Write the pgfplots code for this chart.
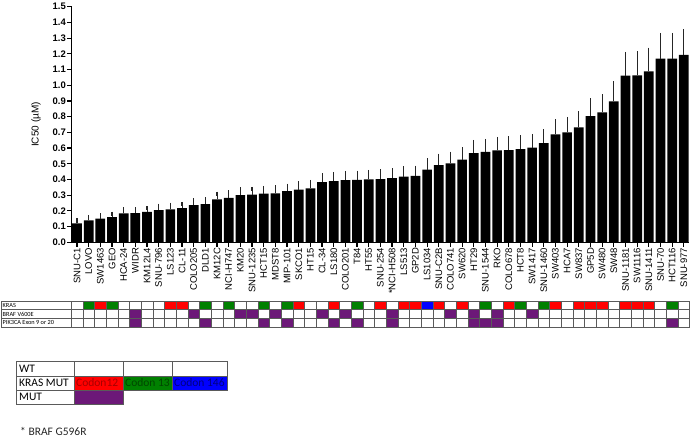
\documentclass[border=0pt]{standalone}
\usepackage{fontspec}
\setmainfont{Liberation Sans}
\newfontfamily\calibri{Carlito}
\usepackage{pgfplots}
\usepackage{pgfplotstable}
\pgfplotsset{compat=1.18}
\definecolor{kred}{RGB}{255,0,0}
\definecolor{kgreen}{RGB}{0,128,0}
\definecolor{kblue}{RGB}{0,0,255}
\definecolor{kpurple}{RGB}{108,24,120}
\definecolor{gridc}{RGB}{90,90,90}
\newcommand\fs[1]{\fontsize{#1}{#1}\selectfont}
\pgfplotstableread{
x y e
1 0.12 0.02
2 0.14 0.02
3 0.15 0.021
4 0.16 0.021
5 0.185 0.023
6 0.186 0.023
7 0.193 0.024
8 0.205 0.027
9 0.21 0.029
10 0.218 0.026
11 0.237 0.03
12 0.243 0.031
13 0.274 0.034
14 0.283 0.034
15 0.30 0.035
16 0.303 0.036
17 0.31 0.035
18 0.312 0.036
19 0.326 0.034
20 0.336 0.038
21 0.344 0.039
22 0.383 0.044
23 0.389 0.045
24 0.396 0.045
25 0.397 0.046
26 0.40 0.047
27 0.403 0.047
28 0.408 0.049
29 0.418 0.052
30 0.423 0.052
31 0.463 0.057
32 0.491 0.06
33 0.502 0.061
34 0.527 0.063
35 0.568 0.07
36 0.576 0.068
37 0.586 0.071
38 0.587 0.073
39 0.594 0.073
40 0.603 0.073
41 0.631 0.076
42 0.687 0.082
43 0.70 0.084
44 0.731 0.09
45 0.804 0.10
46 0.827 0.103
47 0.897 0.115
48 1.061 0.138
49 1.063 0.138
50 1.088 0.138
51 1.17 0.15
52 1.17 0.15
53 1.193 0.15
}\ictable
\pgfplotstableread{
x y c
1 3 w
2 3 g
3 3 r
4 3 g
5 3 w
6 3 w
7 3 w
8 3 w
9 3 r
10 3 r
11 3 w
12 3 g
13 3 w
14 3 g
15 3 w
16 3 w
17 3 g
18 3 w
19 3 g
20 3 r
21 3 w
22 3 w
23 3 r
24 3 w
25 3 g
26 3 w
27 3 r
28 3 w
29 3 r
30 3 r
31 3 b
32 3 r
33 3 w
34 3 r
35 3 w
36 3 g
37 3 w
38 3 r
39 3 g
40 3 w
41 3 g
42 3 r
43 3 w
44 3 r
45 3 r
46 3 r
47 3 w
48 3 r
49 3 r
50 3 r
51 3 w
52 3 g
53 3 w
1 2 w
2 2 w
3 2 w
4 2 w
5 2 w
6 2 p
7 2 w
8 2 w
9 2 w
10 2 w
11 2 p
12 2 w
13 2 w
14 2 w
15 2 p
16 2 p
17 2 w
18 2 p
19 2 w
20 2 w
21 2 w
22 2 p
23 2 w
24 2 p
25 2 w
26 2 w
27 2 w
28 2 p
29 2 w
30 2 w
31 2 w
32 2 w
33 2 p
34 2 w
35 2 p
36 2 w
37 2 p
38 2 w
39 2 w
40 2 p
41 2 w
42 2 w
43 2 w
44 2 w
45 2 w
46 2 w
47 2 w
48 2 w
49 2 w
50 2 w
51 2 w
52 2 w
53 2 w
1 1 w
2 1 w
3 1 w
4 1 w
5 1 w
6 1 p
7 1 w
8 1 w
9 1 w
10 1 w
11 1 w
12 1 p
13 1 w
14 1 w
15 1 w
16 1 w
17 1 p
18 1 w
19 1 p
20 1 w
21 1 w
22 1 w
23 1 p
24 1 w
25 1 p
26 1 w
27 1 w
28 1 p
29 1 w
30 1 w
31 1 w
32 1 w
33 1 w
34 1 w
35 1 p
36 1 p
37 1 p
38 1 w
39 1 w
40 1 w
41 1 w
42 1 w
43 1 w
44 1 w
45 1 w
46 1 w
47 1 w
48 1 w
49 1 w
50 1 w
51 1 w
52 1 p
53 1 w
}\muttable
\begin{document}
\begin{tikzpicture}
\begin{axis}[
  at={(71.5pt,-242.3pt)}, anchor=south west,
  scale only axis, width=617pt, height=235.6pt,
  xmin=0.529, xmax=53.4, ymin=0, ymax=1.5,
  axis x line*=bottom, axis y line*=left,
  axis line style={line width=1.6pt, -},
  tick align=outside, major tick length=4.5pt,
  tick style={line width=1.2pt, black},
  ybar, bar width=9.7pt,
  xtick={1,...,53},
  xticklabels={SNU-C1,LOVO,SW1463,GEO,HCA-24,WIDR,KM12L4,SNU-796,LS123,CL-11,COLO205,DLD1,KM12C,NCI-H747,KM20,SNU-1235,HCT15,MDST8,MIP-101,SKCO1,HT15,CL-34,LS180,COLO201,T84,HT55,SNU-254,*NCI-H508,LS513,GP2D,LS1034,SNU-C2B,COLO741,SW620,HT29,SNU-1544,RKO,COLO678,HCT8,SW1417,SNU-1460,SW403,HCA7,SW837,GP5D,SW480,SW48,SNU-1181,SW1116,SNU-1411,SNU-70,HCT116,SNU-977},
  x tick label style={rotate=90, anchor=east, font=\fs{9.5}, inner sep=1pt},
  ytick={0,0.1,0.2,0.3,0.4,0.5,0.6,0.7,0.8,0.9,1.0,1.1,1.2,1.3,1.4,1.5},
  yticklabels={0.0,0.1,0.2,0.3,0.4,0.5,0.6,0.7,0.8,0.9,1.0,1.1,1.2,1.3,1.4,1.5},
  y tick label style={font=\bfseries\fs{9.5}, inner sep=1pt},
  ylabel={IC50 (µM)},
  ylabel style={at={(axis description cs:-0.0575,0.5)}, anchor=center, font=\fs{10}},
  clip=false,
]
\addplot[fill=black, draw=none,
  error bars/.cd, y dir=plus, y explicit,
  error bar style={line width=1pt, black!85},
  error mark options={line width=1.1pt, black!85, mark size=2.2pt}]
  table[x=x, y=y, y error=e]{\ictable};
\end{axis}
\begin{axis}[
  at={(71.5pt,-327pt)}, anchor=south west,
  scale only axis, width=617pt, height=26.1pt,
  xmin=0.529, xmax=53.4, ymin=0.5, ymax=3.5,
  hide axis, clip=false,
]
\addplot[scatter, only marks, scatter src=explicit symbolic,
  mark=square*, mark size=4.35pt,
  mark options={xscale=1.3414, line width=0.45pt},
  scatter/classes={
    w={mark=square*, draw=gridc, fill=white},
    r={mark=square*, draw=gridc, fill=kred},
    g={mark=square*, draw=gridc, fill=kgreen},
    b={mark=square*, draw=gridc, fill=kblue},
    p={mark=square*, draw=gridc, fill=kpurple}}]
  table[x=x, y=y, meta=c]{\muttable};
\end{axis}
% row label column of the mutation table
\begin{scope}[x=1pt, y=1pt]
\draw[gridc, line width=0.45pt] (1.5,-300.9) rectangle (71.2,-327);
\draw[gridc, line width=0.45pt] (1.5,-309.6) -- (71.2,-309.6);
\draw[gridc, line width=0.45pt] (1.5,-318.3) -- (71.2,-318.3);
\node[anchor=west, inner sep=0pt, font=\calibri\fs{6.3}] at (2.5,-305.25) {KRAS};
\node[anchor=west, inner sep=0pt, font=\calibri\fs{6.3}] at (2.5,-313.95) {BRAF V600E};
\node[anchor=west, inner sep=0pt, font=\calibri\fs{6.3}] at (2.5,-322.65) {PIK3CA Exon 9 or 20};
% key table
\begin{scope}[gridc, line width=0.7pt]
\draw (16.7,-361.7) rectangle (74,-376);
\draw (74,-361.7) rectangle (123.3,-376);
\draw (123.3,-361.7) rectangle (172.7,-376);
\draw (172.7,-361.7) rectangle (227.7,-376);
\draw (16.7,-376) rectangle (74,-390);
\draw[fill=kred] (74,-376) rectangle (123.3,-390);
\draw[fill=kgreen] (123.3,-376) rectangle (172.7,-390);
\draw[fill=kblue] (172.7,-376) rectangle (227.7,-390);
\draw (16.7,-390) rectangle (74,-404.3);
\draw[fill=kpurple] (74,-390) rectangle (123.3,-404.3);
\end{scope}
\node[anchor=west, inner sep=0pt, font=\calibri\fs{11.5}] at (19,-368.85) {WT};
\node[anchor=west, inner sep=0pt, font=\calibri\fs{11.5}] at (19,-383) {KRAS MUT};
\node[anchor=west, inner sep=0pt, font=\calibri\fs{11.5}] at (19,-397.15) {MUT};
\node[anchor=west, inner sep=0pt, font=\calibri\fs{11.5}, text=red!65!black] at (76,-383) {Codon12};
\node[anchor=west, inner sep=0pt, font=\calibri\fs{11.5}, text=kgreen!55!black] at (125,-383) {Codon 13};
\node[anchor=west, inner sep=0pt, font=\calibri\fs{11.5}, text=kblue!50!black] at (174,-383) {Codon 146};
\node[anchor=west, inner sep=0pt, font=\calibri\fs{11.5}, text=black!85] at (20,-431.7) {* BRAF G596R};
\pgfresetboundingbox
\path[use as bounding box] (0,0) rectangle (695,-440);
\end{scope}
\end{tikzpicture}
\end{document}
